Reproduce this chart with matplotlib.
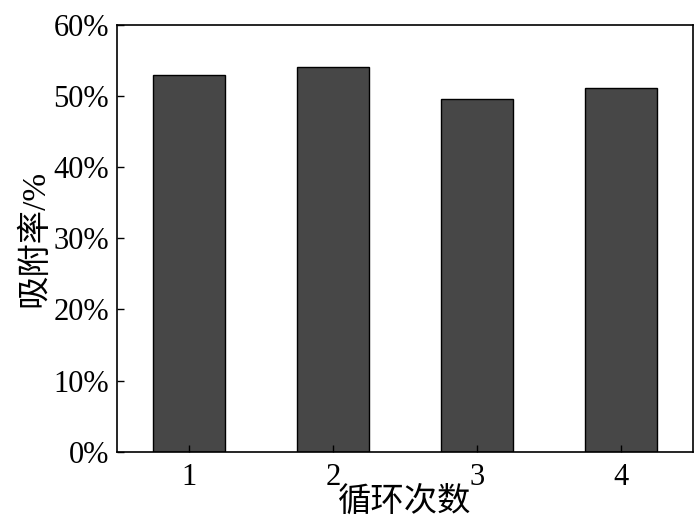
import matplotlib
matplotlib.use('Agg')
import matplotlib.pyplot as plt
from matplotlib.ticker import FuncFormatter

# 循环次数与吸附率
cycles = [1, 2, 3, 4]
rates = [52.9, 54.1, 49.5, 51.1]
yticks = [0, 10, 20, 30, 40, 50, 60]

plt.rcParams['font.family'] = ['Liberation Serif', 'Noto Sans CJK SC']
plt.rcParams['font.size'] = 22

fig = plt.figure(figsize=(7, 5.3), dpi=100)
ax = fig.add_axes([0.1676, 0.1477, 0.822, 0.8057])

ax.bar(cycles, rates, width=0.5, color='#474747', edgecolor='black', linewidth=1)

ax.set_xlim(0.5, 4.5)
ax.set_ylim(0, 60)
ax.set_xticks(cycles)
ax.set_yticks(yticks)
ax.yaxis.set_major_formatter(FuncFormatter(lambda v, p: '%d%%' % v))

ax.tick_params(direction='in', length=5, width=1, labelsize=22, pad=6)
ax.tick_params(axis='x', pad=8)
for s in ax.spines.values():
    s.set_linewidth(1.2)

ax.set_xlabel('循环次数', fontsize=24, labelpad=-4)
ax.set_ylabel('吸附率/%', fontsize=24, labelpad=2)

fig.savefig('out.png', dpi=100)
